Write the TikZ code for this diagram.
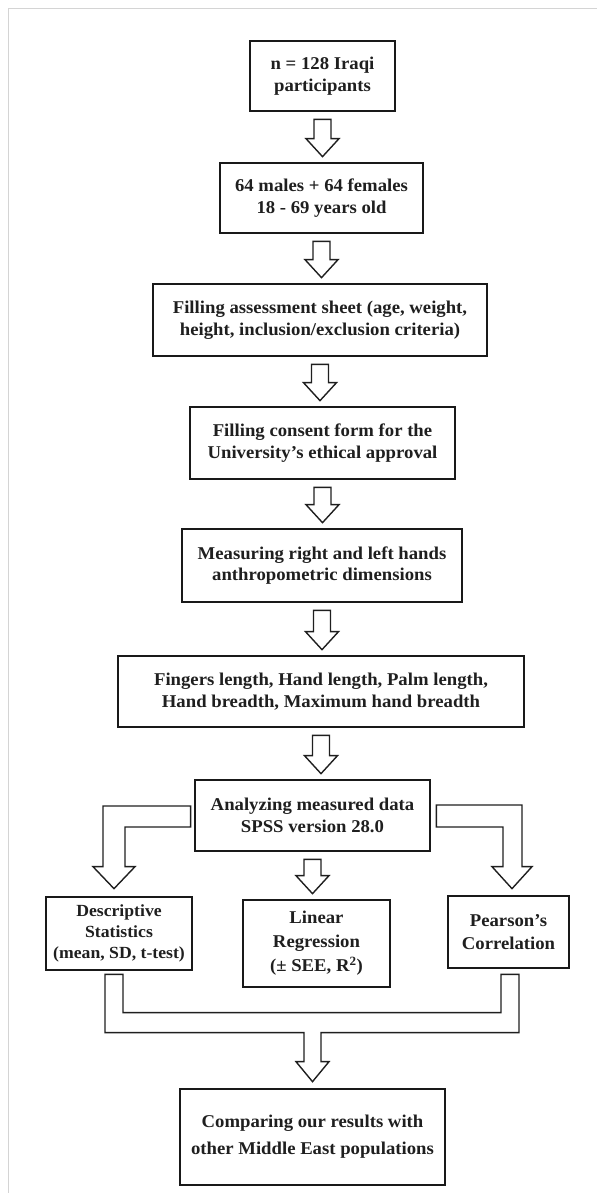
\documentclass[tikz,border=0pt]{standalone}
\usepackage{fontspec}
\setmainfont{Liberation Serif}[FakeStretch=1.04]
\usetikzlibrary{calc}
\tikzset{
  box/.style={draw=black!90, line width=2.7pt, fill=white, inner sep=2pt, align=center,
    font=\fontsize{18}{21.7}\selectfont\bfseries, text=black!88},
  blk/.style={draw=black!88, line width=1.4pt, fill=white, line join=miter},
  framegray/.style={draw=black!17, line width=1.6pt}
}
\newcommand\vblk[2]{%
  \draw[blk] let \p1=(#1.south), \p2=(#2.north) in
  (\x1-8.5pt,\y1-7pt) -- (\x1+8.5pt,\y1-7pt) -- (\x1+8.5pt,\y2+23pt) --
  (\x1+16.5pt,\y2+23pt) -- (\x1,\y2+5pt) -- (\x1-16.5pt,\y2+23pt) --
  (\x1-8.5pt,\y2+23pt) -- cycle;}
\begin{document}
\begin{tikzpicture}[x=1pt,y=-1pt]
\useasboundingbox (0,0) rectangle (597,1193);
\draw[framegray] (8.5,1193) -- (8.5,8.5) -- (597,8.5);

\node[box, minimum width=145pt, minimum height=70pt] (b1) at (322.5,76) {n = 128 Iraqi\\participants};
\node[box, minimum width=203pt, minimum height=70pt] (b2) at (321.5,198) {64 males + 64 females\\18 - 69 years old};
\node[box, minimum width=334pt, minimum height=72pt] (b3) at (320,320) {Filling assessment sheet (age, weight,\\height, inclusion/exclusion criteria)};
\node[box, minimum width=265pt, minimum height=72pt] (b4) at (322.5,443) {Filling consent form for the\\University’s ethical approval};
\node[box, minimum width=280pt, minimum height=73pt] (b5) at (322,565.5) {Measuring right and left hands\\anthropometric dimensions};
\node[box, minimum width=406pt, minimum height=71pt] (b6) at (321,691.5) {Fingers length, Hand length, Palm length,\\Hand breadth, Maximum hand breadth};
\node[box, minimum width=235pt, minimum height=71pt] (b7) at (312.5,815.5) {Analyzing measured data\\SPSS version 28.0};
\node[box, minimum width=146pt, minimum height=73pt, font=\fontsize{17}{21}\selectfont\bfseries] (desc) at (119,933.5) {Descriptive\\Statistics\\(mean, SD, t-test)};
\node[box, minimum width=147pt, minimum height=87pt, font=\fontsize{18}{24}\selectfont\bfseries] (lin) at (316.5,943.5) {Linear\\Regression\\(± SEE, R\textsuperscript{2})};
\node[box, minimum width=121pt, minimum height=72pt, font=\fontsize{18}{23}\selectfont\bfseries] (pear) at (508.5,932) {Pearson’s\\Correlation};
\node[box, minimum width=265pt, minimum height=96pt, font=\fontsize{18}{27}\selectfont\bfseries] (comp) at (312.5,1137) {Comparing our results with\\other Middle East populations};

\vblk{b1}{b2}
\vblk{b2}{b3}
\vblk{b3}{b4}
\vblk{b4}{b5}
\vblk{b5}{b6}
\vblk{b6}{b7}
\vblk{b7}{lin}

% left branch
\draw[blk] let \p1=(b7.west), \p2=(desc.north) in
  (\x1-3pt,\y1+9.5pt) -- (\x2-16pt,\y1+9.5pt) -- (\x2-16pt,\y2+29pt) --
  (\x2-26pt,\y2+29pt) -- (\x2-5pt,\y2+7pt) -- (\x2+16pt,\y2+29pt) --
  (\x2+6pt,\y2+29pt) -- (\x2+6pt,\y1-11.5pt) -- (\x1-3pt,\y1-11.5pt) -- cycle;
% right branch
\draw[blk] let \p1=(b7.east), \p2=(pear.north) in
  (\x1+5pt,\y1+10.5pt) -- (\x2+13.5pt,\y1+10.5pt) -- (\x2+13.5pt,\y2+28pt) --
  (\x2+23.5pt,\y2+28pt) -- (\x2+3.5pt,\y2+6pt) -- (\x2-16.5pt,\y2+28pt) --
  (\x2-5.5pt,\y2+28pt) -- (\x2-5.5pt,\y1-11.5pt) -- (\x1+5pt,\y1-11.5pt) -- cycle;
% merge
\draw[blk] let \p1=(desc.south), \p2=(pear.south), \p3=(comp.north) in
  (\x1-14pt,\y1-3pt) -- (\x1+4pt,\y1-3pt) -- (\x1+4pt,\y3+75pt) --
  (\x2-7.5pt,\y3+75pt) -- (\x2-7.5pt,\y1-3pt) -- (\x2+10.5pt,\y1-3pt) --
  (\x2+10.5pt,\y3+55pt) -- (\x3+8.5pt,\y3+55pt) -- (\x3+8.5pt,\y3+26pt) --
  (\x3+16.5pt,\y3+26pt) -- (\x3,\y3+6pt) -- (\x3-16.5pt,\y3+26pt) --
  (\x3-8.5pt,\y3+26pt) -- (\x3-8.5pt,\y3+55pt) -- (\x1-14pt,\y3+55pt) -- cycle;
\end{tikzpicture}
\end{document}
